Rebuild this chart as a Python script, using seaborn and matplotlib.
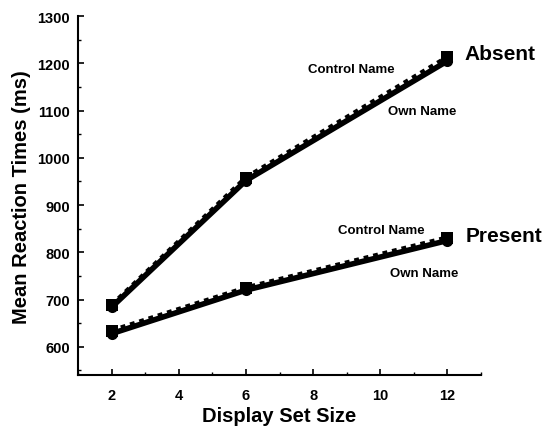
import matplotlib
matplotlib.use("Agg")
import matplotlib.pyplot as plt
import seaborn as sns
import pandas as pd
from matplotlib.ticker import MultipleLocator

set_sizes = [2, 6, 12]
absent_control = [688, 958, 1213]
absent_own = [684, 952, 1205]
present_control = [634, 725, 831]
present_own = [628, 720, 825]

rows = []
for cond, name, vals in [("Absent", "Control Name", absent_control),
                         ("Absent", "Own Name", absent_own),
                         ("Present", "Control Name", present_control),
                         ("Present", "Own Name", present_own)]:
    for x, v in zip(set_sizes, vals):
        rows.append({"size": x, "rt": v, "cond": cond, "name": name})
df = pd.DataFrame(rows)

sns.set_style("ticks")
plt.rcParams['font.family'] = ['Liberation Sans', 'DejaVu Sans']
plt.rcParams['text.color'] = 'black'
plt.rcParams['axes.labelcolor'] = 'black'
plt.rcParams['xtick.color'] = 'black'
plt.rcParams['ytick.color'] = 'black'

fig = plt.figure(figsize=(5.46, 4.27), dpi=100)
ax = fig.add_axes([0.143, 0.119, 0.738, 0.841])

for cond in ["Absent", "Present"]:
    sub_own = df[(df.cond == cond) & (df.name == "Own Name")]
    sub_ctl = df[(df.cond == cond) & (df.name == "Control Name")]
    sns.lineplot(data=sub_own, x="size", y="rt", ax=ax, color="black",
                 linewidth=4, marker="o", markersize=8, markeredgewidth=0,
                 linestyle="-")
    sns.lineplot(data=sub_ctl, x="size", y="rt", ax=ax, color="black",
                 linewidth=3.5, marker="s", markersize=8, markeredgewidth=0,
                 linestyle=(0, (1, 1)))

ax.set_xlim(1, 13)
ax.set_ylim(540, 1300)
ax.xaxis.set_major_locator(MultipleLocator(2))
ax.xaxis.set_minor_locator(MultipleLocator(1))
ax.yaxis.set_minor_locator(MultipleLocator(50))
ax.set_yticks([600, 700, 800, 900, 1000, 1100, 1200, 1300])
ax.tick_params(axis="both", which="major", direction="in", length=4, width=1.2,
               labelsize=10.5, colors="black")
ax.tick_params(axis="both", which="minor", direction="in", length=2, width=1,
               colors="black")
for lab in ax.get_xticklabels() + ax.get_yticklabels():
    lab.set_fontweight("bold")
ax.tick_params(axis="x", pad=9)
ax.tick_params(axis="y", pad=6)
for s in ["left", "bottom"]:
    ax.spines[s].set_linewidth(1.5)
    ax.spines[s].set_color("black")
sns.despine(ax=ax)

ax.set_xlabel("Display Set Size", fontsize=14.5, fontweight="bold", labelpad=3,
              color="black")
ax.set_ylabel("Mean Reaction Times (ms)", fontsize=14.5, fontweight="bold",
              labelpad=4, color="black")

ax.text(12.52, 1220, "Absent", fontsize=15, fontweight="bold", va="center", ha="left")
ax.text(7.85, 1188, "Control Name", fontsize=9.5, fontweight="bold", va="center", ha="left")
ax.text(10.23, 1099, "Own Name", fontsize=9.5, fontweight="bold", va="center", ha="left")
ax.text(8.74, 847, "Control Name", fontsize=9.5, fontweight="bold", va="center", ha="left")
ax.text(12.55, 836, "Present", fontsize=15, fontweight="bold", va="center", ha="left")
ax.text(10.29, 756, "Own Name", fontsize=9.5, fontweight="bold", va="center", ha="left")

fig.savefig("out.png", dpi=100)
